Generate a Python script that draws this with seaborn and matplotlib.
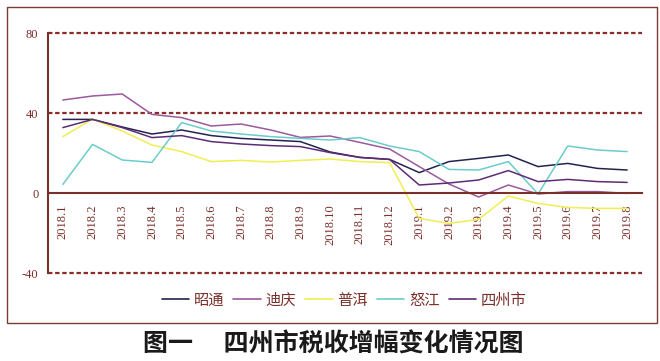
import numpy as np
import pandas as pd
import matplotlib
matplotlib.use("Agg")
import matplotlib.pyplot as plt
import seaborn as sns
from matplotlib.patches import Rectangle
from matplotlib.lines import Line2D
from matplotlib.font_manager import FontProperties

months = ["2018.1", "2018.2", "2018.3", "2018.4", "2018.5", "2018.6", "2018.7",
          "2018.8", "2018.9", "2018.10", "2018.11", "2018.12", "2019.1", "2019.2",
          "2019.3", "2019.4", "2019.5", "2019.6", "2019.7", "2019.8"]
series_names = ["昭通", "迪庆", "普洱", "怒江", "四州市"]
zhaotong = [36.8, 36.8, 33.0, 29.5, 31.5, 28.7, 27.3, 26.5, 25.7, 20.5, 17.8, 16.8,
            10.2, 15.7, 17.3, 19.0, 13.2, 14.8, 12.3, 11.5]
diqing = [46.5, 48.5, 49.5, 39.3, 37.7, 33.5, 34.5, 31.5, 27.8, 28.5, 25.3, 22.0,
          13.2, 4.5, -2.0, 4.0, -0.5, 0.7, 0.7, -0.2]
puer = [28.2, 37.0, 31.0, 24.0, 20.7, 15.7, 16.3, 15.5, 16.3, 17.0, 15.7, 15.2,
        -12.7, -15.2, -13.2, -1.5, -5.2, -7.2, -7.7, -7.7]
nujiang = [4.3, 24.3, 16.5, 15.3, 35.2, 31.0, 29.5, 28.2, 27.3, 26.5, 27.7, 23.5,
           20.7, 11.8, 11.5, 15.7, -0.5, 23.5, 21.5, 20.7]
sizhou = [32.7, 36.8, 32.7, 27.7, 28.7, 25.7, 24.5, 23.7, 23.2, 20.2, 17.8, 16.8,
          4.0, 5.0, 6.5, 11.2, 5.7, 6.8, 5.7, 5.3]
y_ticks = [-40, 0, 40, 80]

colors = {"昭通": "#23234f", "迪庆": "#9a5a9c", "普洱": "#f0ee50",
          "怒江": "#6ccccc", "四州市": "#5e2c74"}
brown = "#7b2f2a"

sns.set_style("white")
plt.rcParams["font.family"] = ["Liberation Serif", "Noto Sans CJK SC", "DejaVu Sans"]

wide = pd.DataFrame({"idx": np.arange(len(months)), "昭通": zhaotong, "迪庆": diqing,
                     "普洱": puer, "怒江": nujiang, "四州市": sizhou})
df = wide.melt(id_vars="idx", var_name="series", value_name="value")

fig = plt.figure(figsize=(6.6, 3.61), dpi=100)
ax = fig.add_axes([48 / 660, 1 - 273 / 361, (642 - 48) / 660, (273 - 33) / 361])

sns.lineplot(data=df, x="idx", y="value", hue="series", hue_order=series_names,
             palette=colors, linewidth=1.1, legend=False, ax=ax, zorder=3)

ax.spines["bottom"].set_position(("data", 0))
for s in ["bottom", "left"]:
    ax.spines[s].set_color(brown)
    ax.spines[s].set_linewidth(1.5)
    ax.spines[s].set_zorder(4)
ax.spines["top"].set_visible(False)
ax.spines["right"].set_visible(False)

ax.set_xlim(-0.5, len(months) - 0.5)
ax.set_ylim(-40, 80)
ax.set_xlabel("")
ax.set_ylabel("")
ax.grid(False)

ax.set_yticks(y_ticks)
ax.set_yticklabels([str(v) for v in y_ticks], fontsize=9, color=brown,
                   family="Liberation Serif")
ax.tick_params(axis="y", length=0, pad=7)
for v in [80, 40, -40]:
    ax.axhline(v, color="#8b2b2b", lw=1.6, ls=(0, (2, 1.2)), zorder=1, clip_on=False)

ax.set_xticks(np.arange(len(months)))
ax.set_xticklabels(months, rotation=90, fontsize=9, color=brown,
                   family="Liberation Serif", va="top")
ax.tick_params(axis="x", which="major", length=0, pad=8)
ax.set_xticks(np.arange(0.5, len(months), 1), minor=True)
ax.tick_params(axis="x", which="minor", direction="in", length=4, width=1, color=brown)

handles = [Line2D([0], [0], color=colors[n], lw=1.2) for n in series_names]
fig.legend(handles, series_names, loc="center", bbox_to_anchor=(344 / 660, 1 - 300 / 361),
           ncol=5, frameon=False, prop=FontProperties(family="Noto Sans CJK SC", size=11),
           handlelength=1.8, handletextpad=0.3, columnspacing=0.6, labelcolor=brown)

fig.text(333 / 660, 1 - 345 / 361, "图一\u3000 四州市税收增幅变化情况图",
         ha="center", va="center", family="Noto Sans CJK SC", fontsize=18,
         weight="bold", color="#1a1a1a")

fig.patches.append(Rectangle((7 / 660, 1 - 323 / 361), (657 - 7) / 660, (323 - 7) / 361,
                             transform=fig.transFigure, fill=False, ec="#7b3b30", lw=1))

fig.savefig("out.png", dpi=100, facecolor="white")
